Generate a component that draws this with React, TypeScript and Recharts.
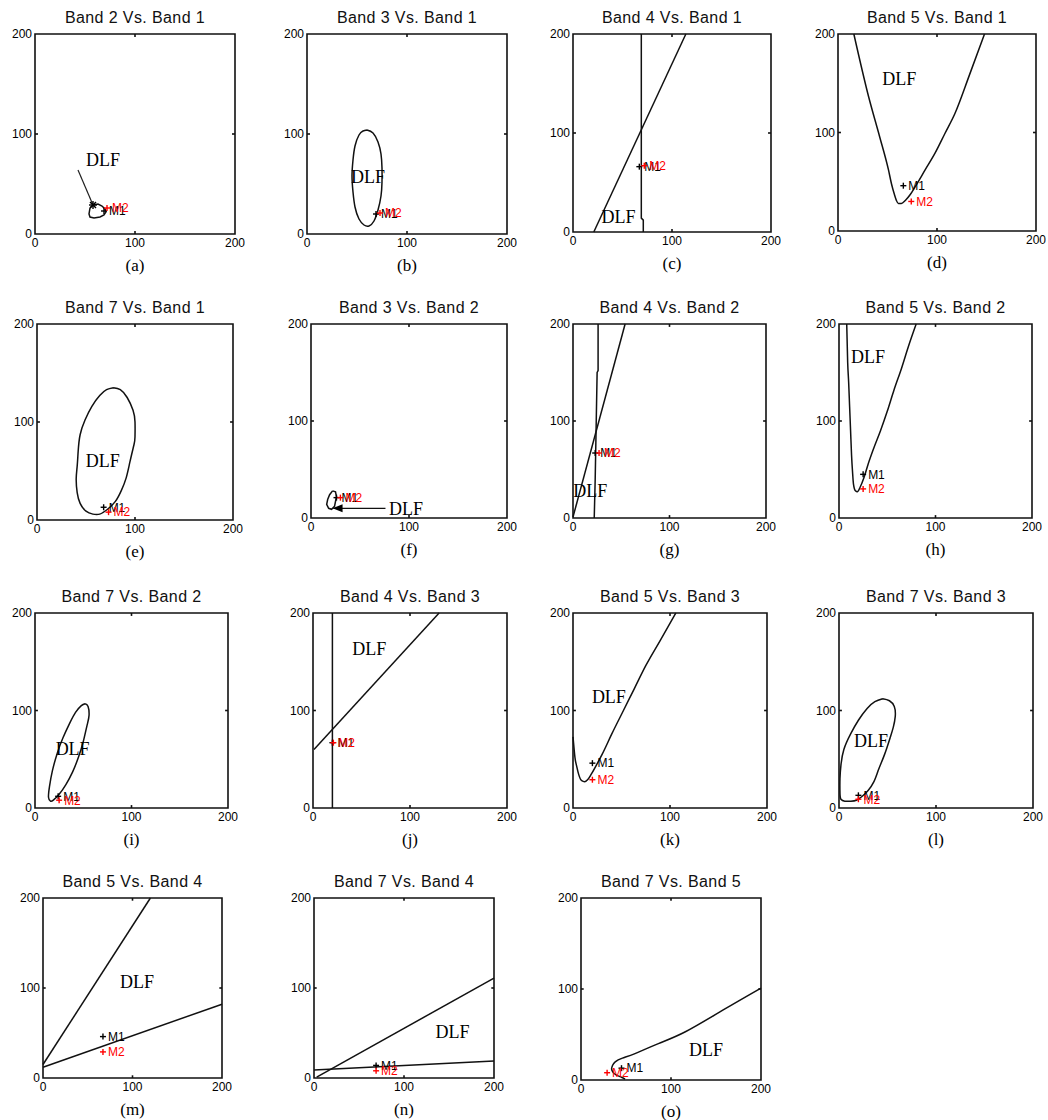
import React from "react";
import {
  ComposedChart,
  Line,
  XAxis,
  YAxis,
  ReferenceArea,
  ReferenceLine,
  ReferenceDot,
} from "recharts";

type P = [number, number];
type Pt = { x: number; y: number };

// ---- text ----
const titles = [
  "Band 2 Vs. Band 1", "Band 3 Vs. Band 1", "Band 4 Vs. Band 1", "Band 5 Vs. Band 1",
  "Band 7 Vs. Band 1", "Band 3 Vs. Band 2", "Band 4 Vs. Band 2", "Band 5 Vs. Band 2",
  "Band 7 Vs. Band 2", "Band 4 Vs. Band 3", "Band 5 Vs. Band 3", "Band 7 Vs. Band 3",
  "Band 5 Vs. Band 4", "Band 7 Vs. Band 4", "Band 7 Vs. Band 5",
];
const letters = ["(a)", "(b)", "(c)", "(d)", "(e)", "(f)", "(g)", "(h)", "(i)", "(j)", "(k)", "(l)", "(m)", "(n)", "(o)"];
const axisTicks = [0, 100, 200];

// ---- decision boundary curves ----
const aBlob: P[] = [[55,26],[58,29],[63,30],[67,28],[70,25],[71,22],[69,19],[65,17],[59,16],[55,17],[54,20],[55,26]];
const bEllipse: P[] = [[60,104],[66,101],[71,92],[74,80],[75,66],[75,52],[74,38],[71,24],[67,13],[62,8],[57,9],[52,15],[48,27],[46,42],[45,58],[46,74],[48,88],[52,99],[56,103],[60,104]];
const cVertical: P[] = [[69,200],[69,14],[71,12],[71,0]];
const cSlant: P[] = [[21,0],[114,200]];
const dCurve: P[] = [[16,200],[31,136],[42,96],[51,62],[54,48],[57,37],[59,31],[61,28],[64,28],[68,31],[73,37],[78,45],[88,62],[98,79],[108,99],[118,119],[133,159],[148,200]];
const eEllipse: P[] = [[78,135],[85,133],[92,125],[98,112],[100,100],[100,85],[99,77],[95,60],[91,43],[86,30],[80,19],[72,11],[64,6],[57,6],[50,9],[44,17],[41,28],[40,42],[41,55],[42,70],[44,87],[49,102],[56,116],[64,127],[71,133],[78,135]];
const fBlob: P[] = [[22,28],[25,27],[26,22],[25,17],[24,12],[21,9],[18,10],[16,14],[17,19],[19,24],[22,28]];
const gVertical: P[] = [[26,200],[26,152],[25,150],[24,95],[23,40],[22,0]];
const gSlant: P[] = [[0,1],[54,200]];
const hCurve: P[] = [[8,200],[9,160],[10,140],[11,115],[12,90],[13,65],[14,48],[15,35],[17,28],[19,27],[22,32],[26,42],[30,55],[36,72],[43,90],[50,110],[57,132],[65,155],[72,177],[80,200]];
const iEllipse: P[] = [[52,107],[55,104],[56,95],[54,85],[50,68],[45,52],[39,37],[32,24],[25,14],[19,8],[16,7],[14,11],[15,22],[18,38],[23,56],[29,72],[36,87],[42,98],[48,105],[52,107]];
const jVertical: P[] = [[20,0],[20,200]];
const jSlant: P[] = [[1,60],[130,200]];
const kCurve: P[] = [[0,73],[1,62],[2,52],[4,42],[6,34],[9,28],[12,27],[15,29],[19,35],[23,42],[30,55],[40,76],[52,100],[63,122],[75,146],[90,172],[106,200]];
const lEllipse: P[] = [[45,112],[52,110],[57,104],[58,94],[56,83],[53,73],[47,55],[41,40],[36,27],[30,18],[24,12],[18,8],[12,7],[6,7],[2,9],[1,15],[1,30],[2,44],[5,60],[12,76],[20,90],[29,102],[37,109],[45,112]];
const mSteep: P[] = [[0,15],[120,200]];
const mFlat: P[] = [[0,12],[200,82]];
const nUpper: P[] = [[3,1],[200,111]];
const nLower: P[] = [[0,9],[200,19]];
const oCurve: P[] = [[200,101],[158,77],[116,53],[86,40],[60,29],[46,24],[38,20],[35,16],[34,12],[36,8],[40,5],[45,3],[49,1]];

const curves: P[][][] = [
  [aBlob], [bEllipse], [cVertical, cSlant], [dCurve],
  [eEllipse], [fBlob], [gVertical, gSlant], [hCurve],
  [iEllipse], [jVertical, jSlant], [kCurve], [lEllipse],
  [mSteep, mFlat], [nUpper, nLower], [oCurve],
];

// ---- class means M1 / M2 and DLF label anchors ----
const m1: P[] = [[69,23],[69,20],[67,66],[66,46],[68,13],[26,21],[23,67],[25,45],[24,12],[20,67],[20,46],[20,13],[67,46],[69,14],[45,13]];
const m2: P[] = [[72,26],[73,21],[72,67],[74,30],[73,8],[30,21],[27,67],[25,30],[25,8],[21,67],[20,29],[20,9],[67,29],[69,8],[29,8]];
const dlf: P[] = [[68,74],[61,57],[46,15],[62,155],[67,61],[97,10],[18,28],[30,166],[39,61],[58,163],[37,114],[33,69],[105,107],[154,51],[139,33]];

// arrows pointing at the DLF region in (a) and (f)
const aArrow: P[] = [[43,64],[58,29]];
const fArrow: P[] = [[76,10],[23,10]];

// ---- layout (plot box in page pixels) and curve interpolation per panel ----
const boxes = [
  { left: 35, top: 34, w: 200, h: 200 }, { left: 307, top: 34, w: 200, h: 200 },
  { left: 573, top: 34, w: 198, h: 198 }, { left: 838, top: 34, w: 198, h: 197 },
  { left: 37, top: 324, w: 196, h: 196 }, { left: 311, top: 324, w: 196, h: 194 },
  { left: 573, top: 324, w: 193, h: 194 }, { left: 839, top: 324, w: 193, h: 194 },
  { left: 35, top: 613, w: 193, h: 195 }, { left: 313, top: 613, w: 194, h: 195 },
  { left: 573, top: 613, w: 194, h: 195 }, { left: 839, top: 613, w: 194, h: 195 },
  { left: 43, top: 898, w: 179, h: 180 }, { left: 314, top: 898, w: 180, h: 180 },
  { left: 581, top: 898, w: 180, h: 182 },
];
const curveTypes: any[] = [
  "linear", "natural", "linear", "monotone",
  "natural", "linear", "linear", "monotone",
  "natural", "linear", "monotone", "natural",
  "linear", "linear", "natural",
];

const toPts = (arr: P[]): Pt[] => arr.map(([x, y]) => ({ x, y }));

const SANS = "Arial, 'Liberation Sans', sans-serif";
const SERIF = "'Times New Roman', 'Liberation Serif', serif";

const markShape = (color: string, label: string) => (props: any) => {
  const { cx, cy } = props;
  return (
    <g>
      <line x1={cx - 3} x2={cx + 3} y1={cy} y2={cy} stroke={color} strokeWidth={1.4} />
      <line x1={cx} x2={cx} y1={cy - 3} y2={cy + 3} stroke={color} strokeWidth={1.4} />
      <text x={cx + 5} y={cy} dy="0.36em" fontSize={12} fill={color} fontFamily={SANS}>
        {label}
      </text>
    </g>
  );
};

const dlfShape = (props: any) => (
  <text x={props.cx} y={props.cy} dy="0.35em" textAnchor="middle" fontSize={18} fill="#000" fontFamily={SERIF}>
    DLF
  </text>
);

const starShape = (props: any) => {
  const { cx, cy } = props;
  return (
    <g stroke="#000" strokeWidth={1.4}>
      <line x1={cx - 4} x2={cx + 4} y1={cy} y2={cy} />
      <line x1={cx - 3} x2={cx + 3} y1={cy - 3} y2={cy + 3} />
      <line x1={cx - 3} x2={cx + 3} y1={cy + 3} y2={cy - 3} />
      <line x1={cx} x2={cx} y1={cy - 4} y2={cy + 4} />
    </g>
  );
};

const leftHead = (props: any) => {
  const { cx, cy } = props;
  return <polygon points={`${cx - 1},${cy} ${cx + 9},${cy - 4} ${cx + 9},${cy + 4}`} fill="#000" />;
};

const tickFont = { fontSize: 12, fill: "#000", fontFamily: SANS };

function Panel({ i }: { i: number }) {
  const box = boxes[i];
  const W = box.w + 45;
  const H = box.h + 26;
  const [m1x, m1y] = m1[i];
  const [m2x, m2y] = m2[i];
  const [dx, dy] = dlf[i];
  return (
    <>
      <div
        style={{
          position: "absolute", left: box.left - 20, width: box.w + 40, top: box.top - 25,
          textAlign: "center", fontFamily: SANS, fontSize: 16, lineHeight: "18px", color: "#111",
          letterSpacing: 0.4,
        }}
      >
        {titles[i]}
      </div>
      <div style={{ position: "absolute", left: box.left - 35, top: box.top - 6 }}>
        <ComposedChart width={W} height={H} margin={{ top: 6, right: 10, bottom: 0, left: 0 }}>
          <XAxis
            type="number" dataKey="x" domain={[0, 200]} ticks={axisTicks} interval={0}
            axisLine={false} tickLine={false} tickSize={2} tickMargin={2} height={20} tick={tickFont}
          />
          <YAxis
            type="number" dataKey="y" domain={[0, 200]} ticks={axisTicks} interval={0}
            axisLine={false} tickLine={false} tickSize={1} tickMargin={2} width={35} tick={tickFont}
          />
          <ReferenceArea x1={0} x2={200} y1={0} y2={200} fill="none" stroke="#111" strokeWidth={1.6} ifOverflow="visible" />
          <ReferenceLine segment={[{ x: 100, y: 0 }, { x: 100, y: 3 }]} stroke="#111" strokeWidth={1.6} />
          <ReferenceLine segment={[{ x: 100, y: 200 }, { x: 100, y: 197 }]} stroke="#111" strokeWidth={1.6} />
          <ReferenceLine segment={[{ x: 0, y: 100 }, { x: 3, y: 100 }]} stroke="#111" strokeWidth={1.6} />
          <ReferenceLine segment={[{ x: 200, y: 100 }, { x: 197, y: 100 }]} stroke="#111" strokeWidth={1.6} />
          {curves[i].map((c, k) => (
            <Line
              key={k} data={toPts(c)} dataKey="y" type={curveTypes[i]} stroke="#111" strokeWidth={1.5}
              dot={false} activeDot={false} isAnimationActive={false}
            />
          ))}
          {i === 0 && (
            <ReferenceLine
              segment={aArrow.map(([x, y]) => ({ x, y }))} stroke="#222" strokeWidth={1.2}
            />
          )}
          {i === 0 && <ReferenceDot x={aArrow[1][0]} y={aArrow[1][1]} r={0} shape={starShape} />}
          {i === 5 && (
            <ReferenceLine
              segment={fArrow.map(([x, y]) => ({ x, y }))} stroke="#111" strokeWidth={1.3}
            />
          )}
          {i === 5 && <ReferenceDot x={fArrow[1][0]} y={fArrow[1][1]} r={0} shape={leftHead} />}
          <ReferenceDot x={dx} y={dy} r={0} shape={dlfShape} />
          <ReferenceDot x={m1x} y={m1y} r={0} shape={markShape("#000", "M1")} />
          <ReferenceDot x={m2x} y={m2y} r={0} shape={markShape("#ff0000", "M2")} />
        </ComposedChart>
      </div>
      <div
        style={{
          position: "absolute", left: box.left, width: box.w, top: box.top + box.h + 22,
          textAlign: "center", fontFamily: SERIF, fontSize: 17, lineHeight: "20px", color: "#000",
        }}
      >
        {letters[i]}
      </div>
    </>
  );
}

export default function App() {
  return (
    <div style={{ position: "absolute", left: 0, top: 0, width: 1048, height: 1120, background: "#fff" }}>
      {boxes.map((_, i) => (
        <Panel key={i} i={i} />
      ))}
    </div>
  );
}
